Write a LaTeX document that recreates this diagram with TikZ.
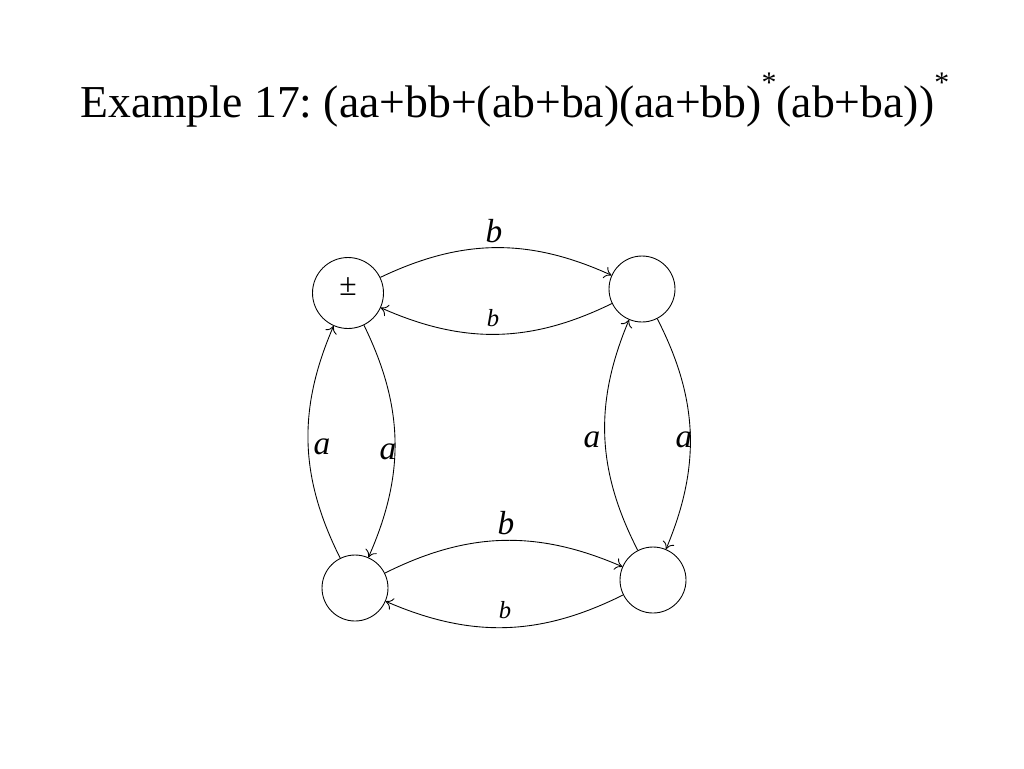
\documentclass[tikz,border=0pt]{standalone}
\usepackage{fontspec}
\setmainfont{Liberation Serif}
\usetikzlibrary{arrows.meta}
\begin{document}
\begin{tikzpicture}[x=0.02cm,y=-0.02cm,
  st/.style={draw,circle,minimum size=1.32cm,inner sep=0pt,line width=0.5pt},
  ed/.style={-{To[length=4pt,width=7pt]},line width=0.5pt},
  lb/.style={font=\itshape\fontsize{19}{22}\selectfont},
  ls/.style={font=\itshape\fontsize{14}{17}\selectfont}]
\useasboundingbox (0,0) rectangle (1024,768);
\node[anchor=west,font=\fontsize{26}{30}\selectfont,inner sep=0pt] (t) at (80,100) {\frenchspacing Example 17: (aa+bb+(ab+ba)(aa+bb)\raisebox{0.55em}{\fontsize{17}{20}\selectfont *}(ab+ba))\raisebox{0.55em}{\fontsize{17}{20}\selectfont *}};
\node[st,minimum size=1.42cm,font=\fontsize{18}{20}\selectfont] (tl) at (348,293) {\raisebox{0.4em}{±}};
\node[st] (tr) at (642,289) {};
\node[st] (bl) at (355,588) {};
\node[st] (br) at (653,580) {};
\draw[ed] (tl) to[bend left=25] (tr);
\draw[ed] (tr) to[bend left=25] (tl);
\draw[ed] (tl) to[bend left=25] (bl);
\draw[ed] (bl) to[bend left=25] (tl);
\draw[ed] (tr) to[bend left=25] (br);
\draw[ed] (br) to[bend left=25] (tr);
\draw[ed] (bl) to[bend left=25] (br);
\draw[ed] (br) to[bend left=25] (bl);
\node[lb] (l1) at (494,231) {b};
\node[ls] (l2) at (493,318) {b};
\node[lb] (l3) at (322,447) {a};
\node[lb] (l4) at (388,452) {a};
\node[lb] (l5) at (592,440) {a};
\node[lb] (l6) at (684,440) {a};
\node[lb] (l7) at (506,523) {b};
\node[ls] (l8) at (505,610) {b};
\end{tikzpicture}
\end{document}
